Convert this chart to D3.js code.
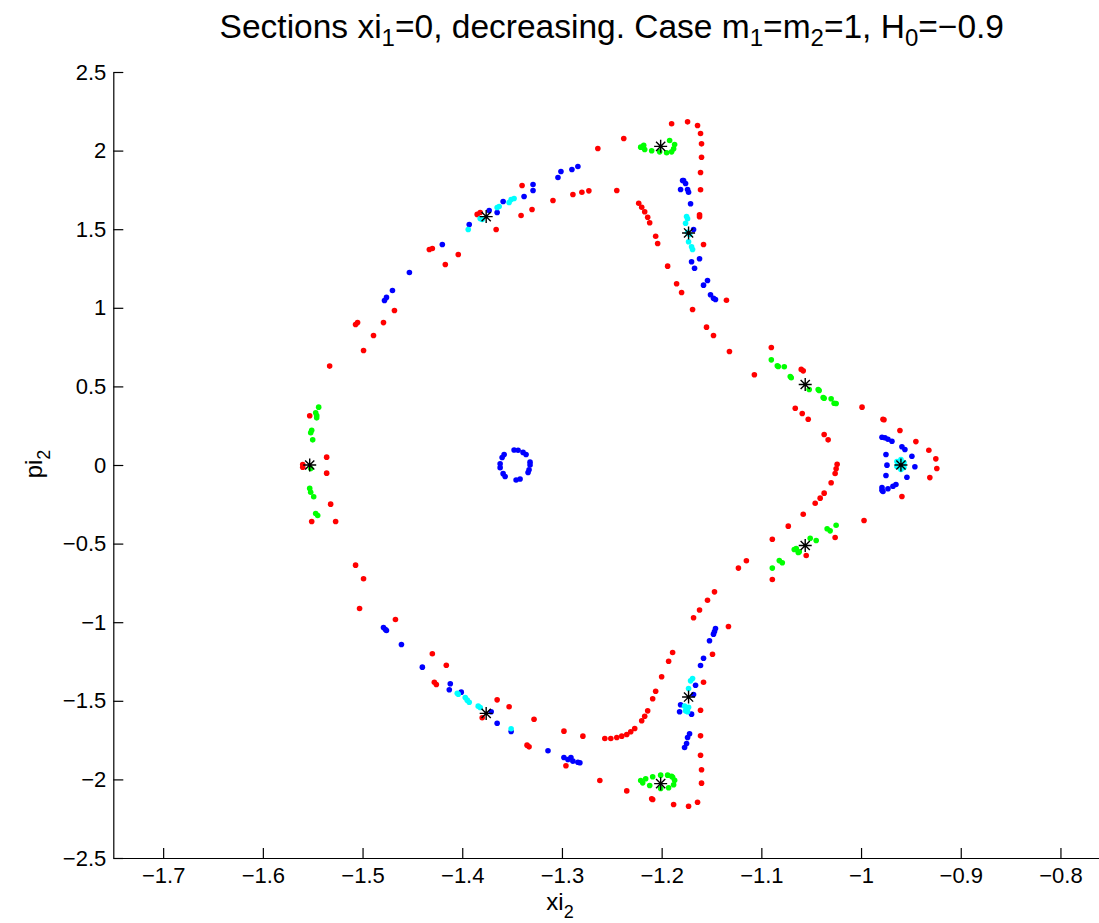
<!DOCTYPE html>
<html>
<head>
<meta charset="utf-8">
<script src="https://cdnjs.cloudflare.com/ajax/libs/d3/7.8.5/d3.min.js"></script>
<style>
body{margin:0;background:#fff;}
text{font-family:"Liberation Sans",Arial,Helvetica,sans-serif;fill:#000;}
</style>
</head>
<body>
<div id="chart"></div>
<script>
// section points, one array per orbit colour  [xi_2, pi_2]
const redPts = [
    [-1.340,1.778],[-1.341,1.587],[-1.330,1.625],[-1.309,1.683],[-1.289,1.721],[-1.366,1.498],[-1.385,1.594],[-1.382,1.606],
    [-1.404,1.339],[-1.433,1.371],[-1.430,1.377],[-1.417,1.275],[-1.468,0.983],[-1.479,0.906],[-1.507,0.894],[-1.505,0.906],
    [-1.489,0.824],[-1.499,0.728],
    [-1.190,2.171],[-1.174,2.183],[-1.164,2.160],[-1.161,2.109],[-1.160,2.043],[-1.160,1.958],[-1.161,1.861],[-1.161,1.751],
    [-1.162,1.592],[-1.162,1.579],[-1.158,1.403],[-1.238,2.077],[-1.264,2.013],[-1.280,1.735],[-1.273,1.744],[-1.245,1.746],
    [-1.223,1.665],[-1.220,1.640],[-1.217,1.611],[-1.214,1.576],[-1.212,1.541],[-1.206,1.455],[-1.204,1.409],[-1.194,1.265],
    [-1.185,1.153],[-1.180,1.097],[-1.169,0.989],[-1.135,1.048],[-1.155,0.877],[-1.148,0.824],[-1.132,0.722],
    [-1.147,-0.807],[-1.154,-0.860],
    [-1.533,0.629],[-1.553,0.313],[-1.560,0.003],[-1.560,-0.014],[-1.536,0.050],[-1.536,-0.052],[-1.532,-0.249],[-1.551,-0.359],
    [-1.527,-0.359],[-1.507,-0.637],[-1.499,-0.724],
    [-1.090,0.747],[-1.107,0.574],[-1.060,0.608],[-1.058,0.599],[-0.999,0.368],[-0.978,0.291],[-0.977,0.288],[-1.066,0.361],
    [-1.059,0.328],[-1.053,0.291],[-1.037,0.194],[-1.033,0.160],[-0.961,0.219],[-0.945,0.149],[-0.932,0.094],[-0.925,0.039],
    [-0.924,-0.022],[-0.931,-0.080],[-0.959,-0.200],[-1.024,0.005],[-1.025,-0.024],[-1.026,-0.054],[-1.030,-0.113],[-1.037,-0.179],
    [-1.041,-0.211],[-1.046,-0.243],[-1.058,-0.313],[-0.997,-0.353],[-1.073,-0.389],[-1.026,-0.461],[-1.089,-0.472],[-1.055,-0.576],
    [-1.115,-0.609],[-1.123,-0.656],[-1.089,-0.728],
    [-1.503,-0.913],[-1.467,-0.983],[-1.430,-1.201],[-1.416,-1.274],[-1.428,-1.382],[-1.426,-1.396],[-1.365,-1.494],[-1.353,-1.538],
    [-1.380,-1.608],[-1.328,-1.617],[-1.335,-1.782],[-1.333,-1.793],[-1.298,-1.693],[-1.296,-1.913],
    [-1.162,-0.922],[-1.168,-0.972],[-1.133,-1.027],[-1.149,-1.204],[-1.189,-1.193],[-1.193,-1.248],[-1.200,-1.347],[-1.158,-1.382],
    [-1.206,-1.439],[-1.209,-1.487],[-1.214,-1.564],[-1.217,-1.598],[-1.220,-1.627],[-1.227,-1.676],[-1.231,-1.697],[-1.235,-1.714],
    [-1.240,-1.725],[-1.245,-1.733],[-1.251,-1.740],[-1.257,-1.740],[-1.279,-1.725],[-1.161,-1.560],[-1.161,-1.723],[-1.161,-1.846],
    [-1.160,-1.939],[-1.160,-2.024],[-1.164,-2.145],[-1.173,-2.171],[-1.188,-2.160],[-1.210,-2.123],[-1.209,-2.128],[-1.235,-2.073],
    [-1.262,-2.007]
];

const bluePts = [
    [-1.329,1.784],[-1.329,1.746],[-1.338,1.708],[-1.359,1.676],[-1.373,1.619],[-1.365,1.606],[-1.393,1.530],[-1.420,1.403],
    [-1.453,1.225],[-1.470,1.110],[-1.476,1.066],[-1.478,1.046],[-1.304,1.829],[-1.301,1.867],[-1.290,1.880],[-1.284,1.899],
    [-1.179,1.810],[-1.178,1.810],[-1.176,1.791],[-1.181,1.753],[-1.174,1.753],[-1.173,1.735],[-1.171,1.662],[-1.168,1.498],
    [-1.162,1.312],[-1.170,1.293],[-1.167,1.252],[-1.154,1.174],[-1.158,1.144],[-1.151,1.083],[-1.148,1.061],[-1.146,1.053],
    [-0.979,0.177],[-0.976,0.173],[-0.973,0.164],[-0.969,0.151],[-0.959,0.116],[-0.956,0.099],[-0.975,0.067],[-0.949,0.056],
    [-0.974,-0.001],[-0.946,-0.011],[-0.975,-0.067],[-0.954,-0.078],[-0.968,-0.135],[-0.965,-0.124],[-0.973,-0.151],[-0.979,-0.143],
    [-0.978,-0.169],[-0.979,-0.160],
    [-1.479,-1.034],[-1.477,-1.046],[-1.476,-1.053],[-1.461,-1.142],[-1.440,-1.286],[-1.412,-1.392],[-1.413,-1.430],[-1.401,-1.445],
    [-1.371,-1.570],[-1.365,-1.643],[-1.351,-1.695],[-1.314,-1.818],[-1.298,-1.861],[-1.294,-1.873],[-1.291,-1.861],[-1.289,-1.884],
    [-1.284,-1.891],[-1.282,-1.894],
    [-1.146,-1.040],[-1.147,-1.059],[-1.148,-1.076],[-1.152,-1.118],[-1.158,-1.229],[-1.161,-1.275],[-1.166,-1.401],[-1.168,-1.460],
    [-1.181,-1.525],[-1.182,-1.570],[-1.170,-1.585],[-1.172,-1.710],[-1.174,-1.733],[-1.175,-1.772],[-1.177,-1.797],
    // small ring round the centre
    [-1.332,0.000],[-1.332,0.018],[-1.336,0.067],[-1.339,0.080],[-1.344,0.094],[-1.348,0.095],
    [-1.358,0.067],[-1.360,0.048],[-1.362,0.008],[-1.362,-0.017],[-1.359,-0.055],[-1.357,-0.073],[-1.346,-0.095],
    [-1.342,-0.089],[-1.334,-0.048],[-1.333,-0.030]
];

const cyanPts = [
    [-1.394,1.498],[-1.382,1.568],[-1.380,1.562],[-1.365,1.638],[-1.363,1.644],[-1.353,1.670],[-1.351,1.689],[-1.348,1.695],
    [-1.175,1.581],[-1.174,1.566],[-1.176,1.538],[-1.174,1.481],[-1.172,1.466],[-1.173,1.420],[-1.170,1.388],[-1.169,1.371],
    [-0.960,0.035],[-0.957,0.016],[-0.957,-0.016],[-0.960,-0.029],[-0.964,-0.010],[-0.964,0.022],
    [-1.405,-1.452],[-1.404,-1.458],[-1.397,-1.479],[-1.395,-1.496],[-1.393,-1.509],[-1.384,-1.534],[-1.382,-1.543],[-1.351,-1.678],
    [-1.169,-1.358],[-1.171,-1.373],[-1.173,-1.422],[-1.177,-1.534],[-1.173,-1.541],[-1.176,-1.564],[-1.174,-1.570]
];

const greenPts = [
    [-1.221,2.022],[-1.218,2.034],[-1.217,2.007],[-1.210,1.999],[-1.202,1.992],[-1.195,1.986],[-1.190,1.992],[-1.188,2.011],
    [-1.187,2.039],[-1.192,2.064],
    [-1.544,0.368],[-1.547,0.332],[-1.546,0.315],[-1.546,0.300],[-1.551,0.221],[-1.552,0.205],[-1.550,0.160],[-1.553,-0.149],
    [-1.552,-0.173],[-1.549,-0.202],[-1.547,-0.309],[-1.545,-0.321],[-1.552,-0.022],
    [-1.090,0.669],[-1.084,0.631],[-1.083,0.627],[-1.077,0.625],[-1.071,0.563],[-1.070,0.555],[-1.052,0.480],[-1.043,0.480],
    [-1.042,0.474],[-1.038,0.429],[-1.037,0.425],[-1.030,0.421],[-1.027,0.393],[-1.025,0.391],
    [-1.025,-0.383],[-1.034,-0.406],[-1.031,-0.419],[-1.045,-0.480],[-1.051,-0.466],[-1.067,-0.538],[-1.065,-0.531],[-1.063,-0.557],
    [-1.062,-0.552],[-1.082,-0.608],[-1.079,-0.622],[-1.089,-0.656],
    [-1.221,-2.007],[-1.219,-2.022],[-1.216,-1.996],[-1.212,-2.039],[-1.209,-1.983],[-1.201,-1.973],[-1.194,-1.973],[-1.190,-1.980],
    [-1.189,-1.986],[-1.187,-2.005],[-1.188,-2.034],[-1.193,-2.053],[-1.201,-2.058]
];

// fixed points / periodic points marked with '*'
const starPts = [
    [-1.553,0],[-1.376,1.580],[-1.376,-1.580],[-1.201,2.027],[-1.201,-2.027],
    [-1.173,1.476],[-1.173,-1.476],[-1.056,0.512],[-1.056,-0.512],[-0.960,0]
];

const xTicks = [-1.7,-1.6,-1.5,-1.4,-1.3,-1.2,-1.1,-1.0,-0.9,-0.8];
const yTicks = [-2.5,-2,-1.5,-1,-0.5,0,0.5,1,1.5,2,2.5];
const xDomain = [-1.75,-0.75];
const yDomain = [-2.5,2.5];

const width = 1099, height = 923;
const plotLeft = 113.3, plotRight = 1110.3, plotTop = 72, plotBottom = 858;

let x = d3.scaleLinear().domain(xDomain).range([plotLeft, plotRight]);
let y = d3.scaleLinear().domain(yDomain).range([plotBottom, plotTop]);
let fmt = d3.format("~g");

let svg = d3.select("#chart").append("svg")
    .attr("width", width)
    .attr("height", height)
    .style("background", "#fff");

// axes: left and bottom only, ticks point inwards
let gx = svg.append("g")
    .attr("transform", "translate(0," + plotBottom + ")")
    .call(d3.axisBottom(x).tickValues(xTicks).tickFormat(fmt)
        .tickSizeInner(-10).tickSizeOuter(0).tickPadding(9));
let gy = svg.append("g")
    .attr("transform", "translate(" + plotLeft + ",0)")
    .call(d3.axisLeft(y).tickValues(yTicks).tickFormat(fmt)
        .tickSizeInner(-10).tickSizeOuter(0).tickPadding(7));

[gx, gy].forEach(g => {
    g.attr("font-size", 22).attr("font-family", null);
    g.selectAll("path, line").attr("stroke", "#000").attr("stroke-width", 1.2);
});

function drawDots(pts, colour){
    svg.append("g")
        .selectAll("circle")
        .data(pts)
        .join("circle")
        .attr("cx", d => x(d[0]))
        .attr("cy", d => y(d[1]))
        .attr("r", 2.8)
        .attr("fill", colour);
}

drawDots(redPts, "#ff0000");
drawDots(bluePts, "#0000ff");
drawDots(cyanPts, "#00ffff");
drawDots(greenPts, "#00ff00");

// asterisk markers
let r = 6.5, q = r * Math.SQRT1_2;
svg.append("g")
    .selectAll("path")
    .data(starPts)
    .join("path")
    .attr("d", d => {
        let cx = x(d[0]), cy = y(d[1]);
        return "M" + (cx - r) + "," + cy + "h" + (2 * r) +
            "M" + cx + "," + (cy - r) + "v" + (2 * r) +
            "M" + (cx - q) + "," + (cy - q) + "l" + (2 * q) + "," + (2 * q) +
            "M" + (cx - q) + "," + (cy + q) + "l" + (2 * q) + "," + (-2 * q);
    })
    .attr("stroke", "#000")
    .attr("stroke-width", 1.4)
    .attr("fill", "none");

// text with tex-like subscripts: the tspan after a subscript shifts back up
function addSubText(sel, parts, mainSize, subSize){
    let shift = 0;
    parts.forEach(p => {
        let ts = sel.append("tspan");
        if (p.sub){
            ts.attr("font-size", subSize).attr("dy", 8).text(p.sub);
            shift = -8;
        } else {
            ts.attr("font-size", mainSize).text(p.t);
            if (shift) ts.attr("dy", shift);
            shift = 0;
        }
    });
}

let title = svg.append("text")
    .attr("x", (plotLeft + plotRight) / 2)
    .attr("y", 38)
    .attr("font-size", 33.5)
    .attr("text-anchor", "middle");
addSubText(title, [
    {t: "Sections xi"}, {sub: "1"}, {t: "=0, decreasing. Case m"}, {sub: "1"},
    {t: "=m"}, {sub: "2"}, {t: "=1, H"}, {sub: "0"}, {t: "=\u22120.9"}
], 33.5, 24);

let xlab = svg.append("text")
    .attr("x", 560)
    .attr("y", 910)
    .attr("font-size", 24)
    .attr("text-anchor", "middle");
addSubText(xlab, [{t: "xi"}, {sub: "2"}], 24, 18);

let ylab = svg.append("text")
    .attr("transform", "translate(42,464) rotate(-90)")
    .attr("font-size", 24)
    .attr("text-anchor", "middle");
addSubText(ylab, [{t: "pi"}, {sub: "2"}], 24, 18);
</script>
</body>
</html>
